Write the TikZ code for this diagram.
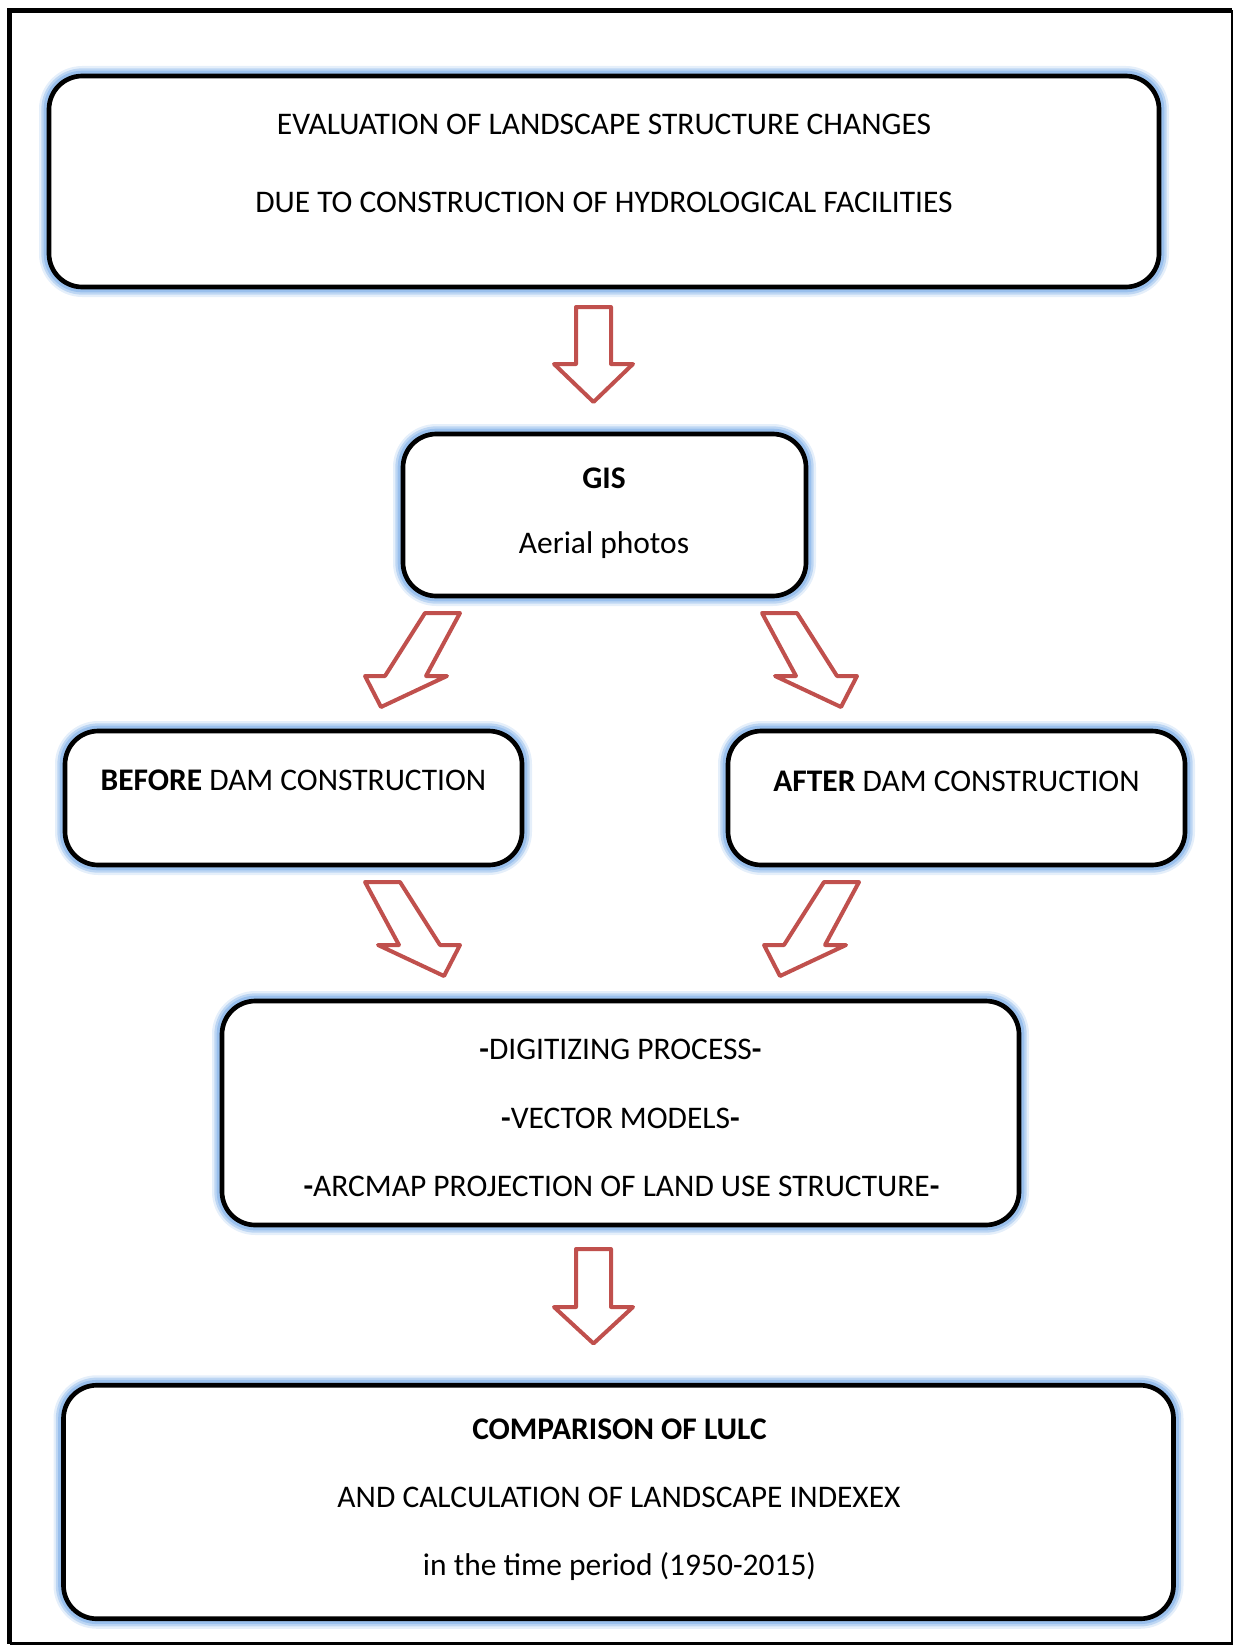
\documentclass[tikz,border=0pt]{standalone}
\usepackage{fontspec}
\setmainfont{Carlito}
\begin{document}
\begin{tikzpicture}[x=0.75pt,y=-0.75pt]
\definecolor{glowc}{RGB}{150,190,236}
\definecolor{arrred}{RGB}{192,80,77}
\tikzset{
  box/.style={draw=black, fill=white, line width=3.5pt, rounded corners=25pt,
    inner sep=0pt, outer sep=0pt,
    preaction={draw=glowc, line width=15pt, opacity=0.25},
    preaction={draw=glowc, line width=11.5pt, opacity=0.5},
    preaction={draw=glowc, line width=8pt, opacity=0.9}},
  txt/.style={anchor=base, inner sep=0pt, font=\fontsize{23.6}{28}\selectfont},
  blockarrow/.style={draw=arrred, fill=white, line width=3pt, line join=round},
}
\useasboundingbox (0,0) rectangle (1240,1645);
% outer frame
\draw[line width=3.6pt] (1232,10.5) -- (9.5,10.5) -- (9.5,1643.5);
\draw[line width=2pt] (9.5,1643.5) -- (1232,1643.5) -- (1232,10.5);

% boxes
\node[box, minimum width={1110*0.75pt}, minimum height={211*0.75pt}] (title) at (604,181.5) {};
\node[box, minimum width={403*0.75pt}, minimum height={162*0.75pt}] (gis) at (604.5,515) {};
\node[box, minimum width={457*0.75pt}, minimum height={134*0.75pt}] (before) at (293.5,798) {};
\node[box, minimum width={457*0.75pt}, minimum height={134*0.75pt}] (after) at (956.5,798) {};
\node[box, minimum width={797*0.75pt}, minimum height={224*0.75pt}] (proc) at (620.5,1113) {};
\node[box, minimum width={1110*0.75pt}, minimum height={233.5*0.75pt}] (comp) at (618.5,1502) {};

% texts
\node[txt] (t1) at (604,134) {EVALUATION OF LANDSCAPE STRUCTURE CHANGES};
\node[txt] (t2) at (604,212) {DUE TO CONSTRUCTION OF HYDROLOGICAL FACILITIES};
\node[txt] (g1) at (604,488) {\textbf{GIS}};
\node[txt] (g2) at (604,553) {Aerial photos};
\node[txt] (b1) at (293.5,790) {\textbf{BEFORE} DAM CONSTRUCTION};
\node[txt] (a1) at (956.5,791) {\textbf{AFTER} DAM CONSTRUCTION};
\node[txt] (p1) at (620.5,1059) {\textbf{-}DIGITIZING PROCESS\textbf{-}};
\node[txt] (p2) at (620.5,1128) {\textbf{-}VECTOR MODELS\textbf{-}};
\node[txt] (p3) at (621.5,1196) {\textbf{-}ARCMAP PROJECTION OF LAND USE STRUCTURE\textbf{-}};
\node[txt] (c1) at (619.5,1439.5) {\textbf{COMPARISON OF LULC}};
\node[txt] (c2) at (619,1507.5) {AND CALCULATION OF LANDSCAPE INDEXEX};
\node[txt] (c3) at (619.5,1575.5) {in the time period (1950-2015)};

% block arrows
\draw[blockarrow] (576,307) -- (611,307) -- (611,364) -- (633,364) -- (593.5,402) -- (554,364) -- (576,364) -- cycle;
\draw[blockarrow] (425,613) -- (460,613) -- (426,676) -- (447,676) -- (381,707) -- (365,676) -- (385,676) -- cycle;
\draw[blockarrow] (797,613) -- (762,613) -- (796,676) -- (775,676) -- (841,707) -- (857,676) -- (837,676) -- cycle;
\draw[blockarrow] (400,882) -- (365,882) -- (399,945) -- (378,945) -- (444,976) -- (460,945) -- (440,945) -- cycle;
\draw[blockarrow] (824,882) -- (859,882) -- (825,945) -- (846,945) -- (780,976) -- (764,945) -- (784,945) -- cycle;
\draw[blockarrow] (576,1249) -- (611,1249) -- (611,1307) -- (633,1307) -- (593.5,1343.5) -- (554,1307) -- (576,1307) -- cycle;
\end{tikzpicture}
\end{document}
